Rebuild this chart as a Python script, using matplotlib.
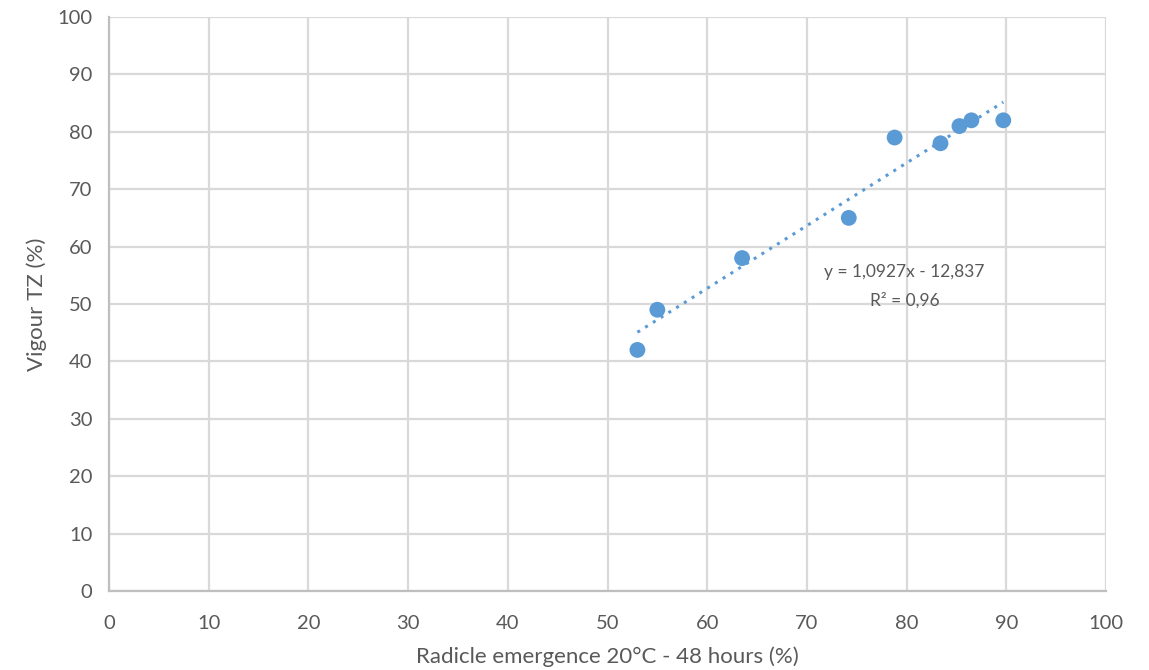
import matplotlib
matplotlib.use("Agg")
import matplotlib.pyplot as plt
import numpy as np

plt.rcParams['font.family'] = ['Lato', 'DejaVu Sans']

radicle = [53.0, 55.0, 63.5, 74.2, 78.8, 83.4, 85.3, 86.5, 89.7]
vigour = [42.0, 49.0, 58.0, 65.0, 79.0, 78.0, 81.0, 82.0, 82.0]
slope = 1.0927
intercept = -12.837
ticks = list(range(0, 101, 10))

fig = plt.figure(figsize=(11.49, 6.70), dpi=100)
ax = fig.add_axes([109/1149, 79/670, (1106-109)/1149, (591-17)/670])

grid_c = '#d9d9d9'
for t in ticks:
    ax.axhline(t, color=grid_c, lw=1.6, zorder=0)
    ax.axvline(t, color=grid_c, lw=1.6, zorder=0)

col = '#5b9bd5'
ax.scatter(radicle, vigour, s=130, color=col, zorder=3, edgecolors='none')
xs = np.array([min(radicle), max(radicle)])
ax.plot(xs, slope * xs + intercept, color=col, lw=2.2, linestyle=(0, (1, 2)), zorder=2)

ax.text(79.8, 55.6, 'y = 1,0927x - 12,837', ha='center', va='center', fontsize=12.5, color='#595959')
ax.text(79.8, 50.6, 'R² = 0,96', ha='center', va='center', fontsize=12.5, color='#595959')

ax.set_xlim(0, 100)
ax.set_ylim(0, 100)
ax.set_xticks(ticks)
ax.set_yticks(ticks)
ax.tick_params(length=0, labelsize=14.5, labelcolor='#595959')
ax.tick_params(axis='x', pad=17)
ax.tick_params(axis='y', pad=12)
for s in ['top', 'right']:
    ax.spines[s].set_visible(False)
for s in ['left', 'bottom']:
    ax.spines[s].set_color('#bfbfbf')
    ax.spines[s].set_linewidth(1.6)

ax.set_xlabel('Radicle emergence 20°C - 48 hours (%)', fontsize=16, color='#595959', labelpad=11)
ax.set_ylabel('Vigour TZ (%)', fontsize=16, color='#595959', labelpad=7)

fig.savefig('out.png', dpi=100)
